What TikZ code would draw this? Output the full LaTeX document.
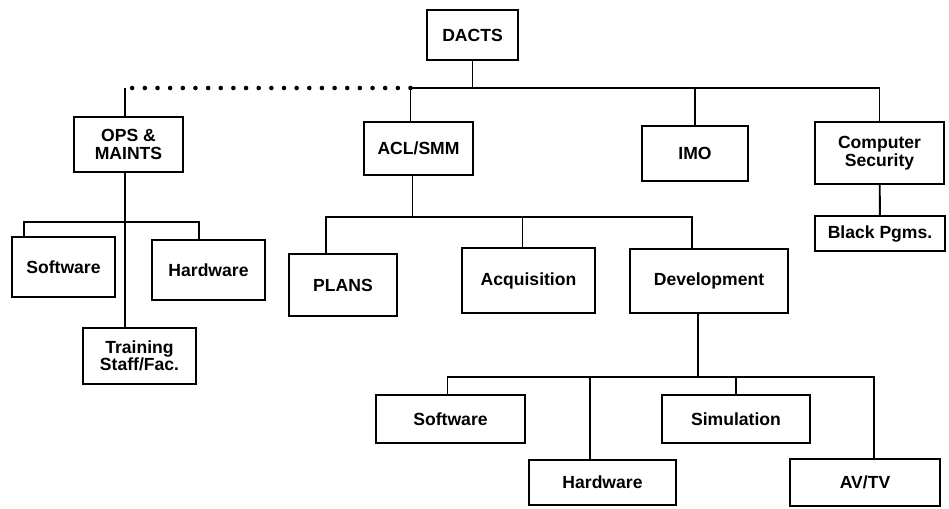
\documentclass[tikz,border=0pt]{standalone}
\usepackage{fontspec}
\setmainfont{Liberation Sans}
\usepackage{tikz}
\usetikzlibrary{positioning}

\begin{document}
\begin{tikzpicture}[x=0.02cm, y=-0.02cm, font=\bfseries\fontsize{10}{10}\selectfont,
    unit/.style={draw, rectangle, line width=1.1pt, align=center, inner sep=2pt},
    link/.style={line width=1.1pt},
    dots/.style={line width=2.6pt, line cap=round, dash pattern=on 0pt off 7.2pt}]
    \useasboundingbox (0,0) rectangle (949,508);

    \node[unit, minimum width=1.82cm, minimum height=1.0cm] (dacts) at (472.5,35) {DACTS};
    \node[unit, minimum width=2.18cm, minimum height=1.1cm] (ops) at (128.5,144.5) {OPS \&\\MAINTS};
    \node[unit, minimum width=2.18cm, minimum height=1.06cm] (acl) at (418.5,148.5) {ACL/SMM};
    \node[unit, minimum width=2.12cm, minimum height=1.1cm] (imo) at (695,153.5) {IMO};
    \node[unit, minimum width=2.58cm, minimum height=1.24cm] (sec) at (879.5,153) {Computer\\Security};
    \node[unit, minimum width=2.6cm, minimum height=0.7cm] (blk) at (880,233.5) {Black Pgms.};

    \node[unit, minimum width=2.06cm, minimum height=1.2cm] (sw1) at (63.5,267) {Software};
    \node[unit, minimum width=2.26cm, minimum height=1.2cm] (hw1) at (208.5,270) {Hardware};
    \node[unit, minimum width=2.26cm, minimum height=1.12cm] (trn) at (139.5,356) {Training\\Staff/Fac.};

    \node[unit, minimum width=2.16cm, minimum height=1.24cm] (plans) at (343,285) {PLANS};
    \node[unit, minimum width=2.66cm, minimum height=1.3cm] (acq) at (528.5,280.5) {Acquisition};
    \node[unit, minimum width=3.16cm, minimum height=1.28cm] (dev) at (709,281) {Development};

    \node[unit, minimum width=2.98cm, minimum height=0.96cm] (sw2) at (450.5,419) {Software};
    \node[unit, minimum width=2.94cm, minimum height=0.9cm] (hw2) at (602.5,482.5) {Hardware};
    \node[unit, minimum width=2.96cm, minimum height=0.96cm] (sim) at (736,419) {Simulation};
    \node[unit, minimum width=3.0cm, minimum height=0.94cm] (av) at (865,482.5) {AV/TV};

    % bus levels
    \coordinate (topbus) at (0,88);
    \coordinate (opsbus) at (0,222);
    \coordinate (aclbus) at (0,217);
    \coordinate (devbus) at (0,377);
    \coordinate (opscorner) at ([xshift=-0.07cm]ops.north |- topbus);

    % DACTS
    \draw[link] (dacts) -- (dacts |- topbus);
    \draw[link] ([xshift=-0.16cm]acl.north) |- (topbus -| sec.north) -- (sec.north);
    \draw[link] (imo) -- (imo |- topbus);
    \draw[dots] ([xshift=-0.16cm]acl.north |- topbus) -- (opscorner);
    \draw[link] (opscorner) -- ([xshift=-0.07cm]ops.north);
    \draw[link] (sec) -- (blk);

    % OPS & MAINTS
    \draw[link] ([xshift=-0.07cm]ops.south) -- ([xshift=-0.07cm]ops.south |- trn.north);
    \draw[link] ([xshift=0.26cm]sw1.north west) |- ([xshift=0.96cm]hw1.north west |- opsbus)
        -- ([xshift=0.96cm]hw1.north west);

    % ACL/SMM
    \draw[link] ([xshift=-0.12cm]acl.south) -- ([xshift=-0.12cm]acl.south |- aclbus);
    \draw[link] ([xshift=-0.34cm]plans.north) |- ([xshift=-0.34cm]dev.north |- aclbus)
        -- ([xshift=-0.34cm]dev.north);
    \draw[link] ([xshift=-0.12cm]acq.north) -- ([xshift=-0.12cm]acq.north |- aclbus);

    % Development
    \draw[link] ([xshift=-0.22cm]dev.south) -- ([xshift=-0.22cm]dev.south |- devbus);
    \draw[link] ([xshift=-0.06cm]sw2.north) |- ([xshift=0.18cm]av.north |- devbus)
        -- ([xshift=0.18cm]av.north);
    \draw[link] ([xshift=-0.25cm]hw2.north) -- ([xshift=-0.25cm]hw2.north |- devbus);
    \draw[link] (sim) -- (sim |- devbus);
\end{tikzpicture}
\end{document}
